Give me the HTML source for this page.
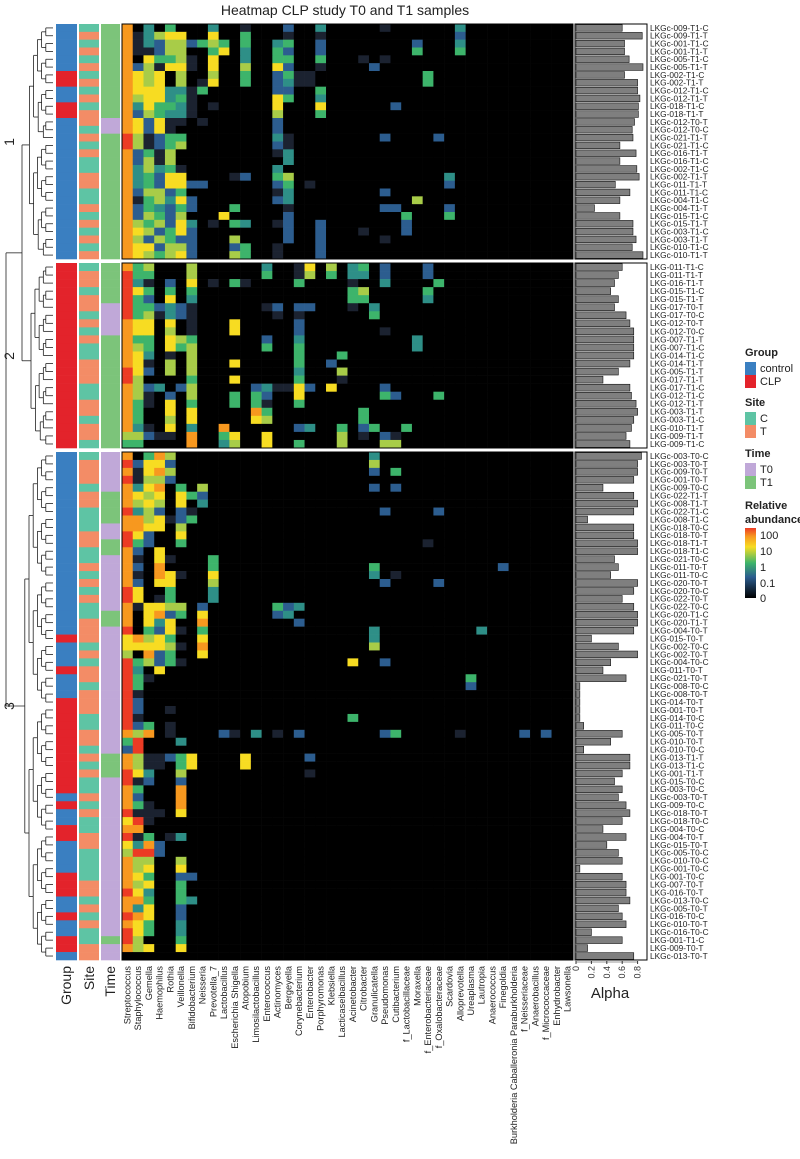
<!DOCTYPE html>
<html><head><meta charset="utf-8"><style>
html,body{margin:0;padding:0;background:#fff}
svg{display:block;font-family:"Liberation Sans",sans-serif}
</style></head><body>
<svg id="chart" width="800" height="1159" viewBox="0 0 800 1159" xmlns="http://www.w3.org/2000/svg">
<text x="345" y="15" font-size="14" text-anchor="middle" fill="#222">Heatmap CLP study T0 and T1 samples</text>
<g id="dendro"></g>
<g id="ann"></g>
<g id="heat"></g>
<g id="bars"></g>
<g id="rowlab"></g>
<g id="collab"></g>
<g id="legend"></g>
</svg>
<script>
const taxa = ["Streptococcus","Staphylococcus","Gemella","Haemophilus","Rothia","Veillonella","Bifidobacterium","Neisseria","Prevotella_7","Lactobacillus","Escherichia Shigella","Atopobium","Limosilactobacillus","Enterococcus","Actinomyces","Bergeyella","Corynebacterium","Enterobacter","Porphyromonas","Klebsiella","Lacticaseibacillus","Acinetobacter","Citrobacter","Granulicatella","Pseudomonas","Cutibacterium","f_Lactobacillaceae","Moraxella","f_Enterobacteriaceae","f_Oxalobacteraceae","Scardovia","Alloprevotella","Ureaplasma","Lautropia","Anaerococcus","Finegoldia","Burkholderia Caballeronia Paraburkholderia","f_Neisseriaceae","Anaerobacillus","f_Micrococcaceae","Enhydrobacter","Lawsonella"];
const levelValues = [0,0.02,0.1,0.5,1,5,10,50,100];
const clusterSizes = [30,23,64];
const samples = [
"LKGc-009-T1-C","LKGc-009-T1-T","LKGc-001-T1-C","LKGc-001-T1-T","LKGc-005-T1-C","LKGc-005-T1-T","LKG-002-T1-C","LKG-002-T1-T","LKGc-012-T1-C","LKGc-012-T1-T","LKG-018-T1-C","LKG-018-T1-T","LKGc-012-T0-T","LKGc-012-T0-C","LKGc-021-T1-T","LKGc-021-T1-C","LKGc-016-T1-T","LKGc-016-T1-C","LKGc-002-T1-C","LKGc-002-T1-T","LKGc-011-T1-T","LKGc-011-T1-C","LKGc-004-T1-C","LKGc-004-T1-T","LKGc-015-T1-C","LKGc-015-T1-T","LKGc-003-T1-C","LKGc-003-T1-T","LKGc-010-T1-C","LKGc-010-T1-T",
"LKG-011-T1-C","LKG-011-T1-T","LKG-016-T1-T","LKG-015-T1-C","LKG-015-T1-T","LKG-017-T0-T","LKG-017-T0-C","LKG-012-T0-T","LKG-012-T0-C","LKG-007-T1-T","LKG-007-T1-C","LKG-014-T1-C","LKG-014-T1-T","LKG-005-T1-T","LKG-017-T1-T","LKG-017-T1-C","LKG-012-T1-C","LKG-012-T1-T","LKG-003-T1-T","LKG-003-T1-C","LKG-010-T1-T","LKG-009-T1-T","LKG-009-T1-C",
"LKGc-003-T0-C","LKGc-003-T0-T","LKGc-009-T0-T","LKGc-001-T0-T","LKGc-009-T0-C","LKGc-022-T1-T","LKGc-008-T1-T","LKGc-022-T1-C","LKGc-008-T1-C","LKGc-018-T0-C","LKGc-018-T0-T","LKGc-018-T1-T","LKGc-018-T1-C","LKGc-021-T0-C","LKGc-011-T0-T","LKGc-011-T0-C","LKGc-020-T0-T","LKGc-020-T0-C","LKGc-022-T0-T","LKGc-022-T0-C","LKGc-020-T1-C","LKGc-020-T1-T","LKGc-004-T0-T","LKG-015-T0-T","LKGc-002-T0-C","LKGc-002-T0-T","LKGc-004-T0-C","LKG-011-T0-T","LKGc-021-T0-T","LKGc-008-T0-C","LKGc-008-T0-T","LKG-014-T0-T","LKG-001-T0-T","LKG-014-T0-C","LKG-011-T0-C","LKG-005-T0-T","LKG-010-T0-T","LKG-010-T0-C","LKG-013-T1-T","LKG-013-T1-C","LKG-001-T1-T","LKG-015-T0-C","LKG-003-T0-C","LKGc-003-T0-T","LKG-009-T0-C","LKGc-018-T0-T","LKGc-018-T0-C","LKG-004-T0-C","LKG-004-T0-T","LKGc-015-T0-T","LKGc-005-T0-C","LKGc-010-T0-C","LKGc-001-T0-C","LKG-001-T0-C","LKG-007-T0-T","LKG-016-T0-T","LKGc-013-T0-C","LKGc-005-T0-T","LKG-016-T0-C","LKGc-010-T0-T","LKGc-016-T0-C","LKG-001-T1-C","LKG-009-T0-T","LKGc-013-T0-T"];
const alpha = [0.60,0.86,0.63,0.63,0.69,0.87,0.63,0.80,0.80,0.83,0.81,0.81,0.76,0.73,0.74,0.57,0.78,0.57,0.79,0.82,0.51,0.70,0.57,0.24,0.57,0.74,0.74,0.78,0.73,0.87,
0.60,0.55,0.50,0.45,0.55,0.50,0.65,0.70,0.75,0.75,0.75,0.75,0.70,0.55,0.35,0.70,0.72,0.78,0.80,0.75,0.72,0.65,0.70,
0.85,0.80,0.80,0.75,0.35,0.75,0.80,0.75,0.15,0.75,0.75,0.80,0.80,0.50,0.55,0.45,0.80,0.75,0.60,0.75,0.80,0.80,0.75,0.20,0.55,0.80,0.45,0.35,0.65,0.05,0.05,0.05,0.05,0.05,0.10,0.60,0.45,0.10,0.70,0.70,0.60,0.50,0.60,0.55,0.65,0.70,0.60,0.35,0.65,0.40,0.55,0.60,0.05,0.60,0.65,0.65,0.70,0.55,0.60,0.65,0.20,0.60,0.15,0.75];
// heat levels: dense prefix | sparse "col:level"
const heat = [
"70304000300100020030|24:1 31:3","71356600600400010010|31:2","71325524540400340020|27:2 31:3","71125500460300420020|27:4 31:4","70644510600300440040|22:1 24:1","72516610600500620010|23:2","76560500500400241100|28:4","76560501600400231100|28:4","76663314000000220040|","75663410000000640030|","73644310100000600060|25:2","72543310000000500040|","76261101000000200000|","76261000000000200000|","85124400000000310000|24:2 29:2","85124500000000210000|","72415000000000130000|","72515000000000030000|","73534100000000300000|","73426600001200450000|30:3","73426622000000240100|30:2","72552400000000130000|24:2","71453620000000230000|27:5","72432420004000010000|24:2 25:2 30:2","72542500060000020000|26:4 30:4","75452630104300120020|26:2","76524620000000020020|26:2 22:1","75254220005000020020|24:1","76625520002400100020|","76545620005400100020|",
"7450005|13:3 16:1 17:6 19:5 21:3 22:4 24:2 28:2","8440005|13:4 16:1 17:5 19:4 21:3 22:3 24:2 28:2","8310206|8:1 10:4 11:1 16:4 21:1 24:3 29:4","8640404|21:4 22:5 28:4","8420603|21:4 22:4 28:3","8442321|13:1 14:2 16:2 17:2 21:1 23:3","8451321|14:1 16:1 23:4","7660601|10:6 16:2","7660501|10:6 16:2 24:1","7440654|13:2 16:3 27:3","7540645|13:4 16:4 27:3","7630105|16:4 20:4","7610505|10:6 16:4 19:2","8620505|16:3 20:5","8500004|10:6 16:4 20:1","7523025|12:2 13:3 14:1 15:1 16:6 17:2 19:6 24:2","7510205|10:4 12:4 13:2 16:6 24:4 25:2 29:4","7410604|10:4 12:4 13:1 16:4","7400606|12:7 13:4 22:4","7400506|12:6 13:5 22:4","7310603|9:7 16:2 17:3 20:4 22:2 23:4 26:4","5521107|9:4 10:6 13:6 20:5 22:1 24:2 25:1","4400007|9:3 10:5 13:6 16:4 20:5 24:5 25:5",
"70475|23:3","82662|23:5","71675|23:2 25:4","81552|","73670405|23:2 25:2","76560642|","75650603|","83520210|24:2 29:2","7756124|","776605|","862006|","842004|28:1","720600|","7106100040|","72070000400000000000|23:4 35:2","71076100600000000000|23:3 25:1","72066000500000000000|24:2 29:2","86004000300000000000|","86014000300000000000|","71665502000000420000|14:4 15:2 16:3","70672406000000230000|","706360070000000020000|","80426104|23:3 33:3","67564006|23:3","66665107|23:5","50724006|","84524100|21:6 24:2","83060000|","84100000|32:4","840000|32:2","81|","82|","82001|","81|21:4","82401|","75701000021030102000|24:2 25:4 31:1 37:2 39:2","48000300|","28000000|","75112460000600000200|","75110460000600000000|","86300500|17:1","81200200|","74000700|","72000700|","74100700|","81110600|","68100000|","77000000|","81401300|","63720000|","58820000|","75500500|","75600600|","76400220|","75600400|","86300400|","77400430|","73600200|","87600200|","76400300|","86400300|","85000400|","75600600|"];

const svgNS="http://www.w3.org/2000/svg";
function mk(tag,attrs,parent){const e=document.createElementNS(svgNS,tag);for(const k in attrs)e.setAttribute(k,attrs[k]);parent.appendChild(e);return e;}
const stops=['#000000','#1b2230','#2c5d8f','#2e8f87','#3db46b','#a8cc48','#f7dc22','#f7981f','#ec3b24'];
function colorScale(v){let i=0;for(let k=0;k<levelValues.length;k++){if(v>=levelValues[k])i=k;}return stops[i];}
function parseRow(s){const [d,sp]=s.split('|');const vals=new Array(taxa.length).fill(0);for(let i=0;i<d.length&&i<taxa.length;i++)vals[i]=levelValues[+d[i]];if(sp)sp.trim().split(/\s+/).forEach(t=>{const [c,l]=t.split(':');vals[+c]=levelValues[+l];});return vals;}

const clusterY=[[24,259],[263,448],[452,960]];
const hx0=122,hx1=573,colW=(hx1-hx0)/taxa.length;
const xScale=c=>hx0+c*colW;
const bx0=576,bScale=a=>bx0+a*77;
const rowsY=[];
clusterSizes.forEach((n,g)=>{const [a,b]=clusterY[g];const h=(b-a)/n;for(let i=0;i<n;i++){rowsY.push({y:a+i*h,h:h,g:g});}});

const heatG=document.getElementById('heat'),annG=document.getElementById('ann'),barG=document.getElementById('bars'),rl=document.getElementById('rowlab');
const cols={control:'#3a7fc1',CLP:'#e3232b',C:'#5ec4a4',T:'#f38c66',T0:'#c0a8d8',T1:'#7cc47a'};
samples.forEach((name,r)=>{
  const ry=rowsY[r];const vals=parseRow(heat[r]||"0|");
  vals.forEach((v,c)=>{const e=mk('rect',{x:xScale(c),y:ry.y,width:colW+0.3,height:ry.h+0.3,fill:colorScale(v)},heatG);
    
    });
  const grp=name.startsWith('LKGc')?'control':'CLP';const site=name.slice(-1);const time=name.indexOf('T0')>=0?'T0':'T1';
  [[56,21,grp],[79,20,site],[101,19,time]].forEach(([x,w,k])=>{const e=mk('rect',{x:x,y:ry.y,width:w,height:ry.h+0.3,fill:cols[k]},annG);
    
    });
  const b=mk('rect',{x:bx0,y:ry.y+0.6,width:Math.max(0,bScale(alpha[r])-bx0),height:ry.h-1.2,fill:'#7f7f7f',stroke:'#111','stroke-width':0.6},barG);
  
  
  const t=mk('text',{x:650,y:ry.y+ry.h/2+2.9,'font-size':8.3,fill:'#222'},rl);t.textContent=name;
  
  
});
clusterY.forEach(([a,b])=>{
  mk('rect',{x:hx0,y:a,width:hx1-hx0,height:b-a,fill:'none',stroke:'#000','stroke-width':1},heatG);
  mk('rect',{x:575,y:a,width:72,height:b-a,fill:'none',stroke:'#000','stroke-width':1},barG);
});
mk('line',{x1:bx0,y1:962,x2:bScale(0.8),y2:962,stroke:'#333','stroke-width':0.6},barG);
[0,0.2,0.4,0.6,0.8].forEach(v=>{const x=bScale(v);mk('line',{x1:x,y1:961,x2:x,y2:964,stroke:'#333'},barG);
  const t=mk('text',{x:0,y:0,'font-size':9,fill:'#333','text-anchor':'end',transform:`translate(${x+3},966) rotate(-90)`},barG);t.textContent=String(v);
  
  });
const at=mk('text',{x:610,y:998,'font-size':15,fill:'#222','text-anchor':'middle'},barG);at.textContent='Alpha';


const cl=document.getElementById('collab');
taxa.forEach((n,c)=>{const x=xScale(c)+colW/2+3;const t=mk('text',{x:0,y:0,'font-size':9.2,fill:'#222','text-anchor':'end',transform:`translate(${x},966) rotate(-90)`},cl);t.textContent=n;
  
  });
[['Group',71],['Site',94],['Time',115]].forEach(([n,x])=>{const t=mk('text',{x:0,y:0,'font-size':14,fill:'#222','text-anchor':'end',transform:`translate(${x},966) rotate(-90)`},cl);t.textContent=n;
  
  });
const dg=document.getElementById('dendro');
function line(x1,y1,x2,y2){mk('line',{x1,y1,x2,y2,stroke:'#222','stroke-width':0.8},dg);}
function build(lo,hi,xr){if(lo===hi){const r=rowsY[lo];return {y:r.y+r.h/2,x:xr};}
  const mid=Math.floor((lo+hi)/2);const a=build(lo,mid,xr),b=build(mid+1,hi,xr);
  const n=hi-lo+1;const x=xr-3-Math.log2(n)*4.2;
  line(x,a.y,x,b.y);line(x,a.y,a.x,a.y);line(x,b.y,b.x,b.y);return {y:(a.y+b.y)/2,x:x};}
let s=0;const roots=clusterSizes.map(n=>{const r=build(s,s+n-1,53);s+=n;return r;});
const j1x=22;line(j1x,roots[0].y,j1x,roots[1].y);line(j1x,roots[0].y,roots[0].x,roots[0].y);line(j1x,roots[1].y,roots[1].x,roots[1].y);
const j2x=6,j1y=(roots[0].y+roots[1].y)/2;line(j2x,j1y,j2x,roots[2].y);line(j2x,j1y,j1x,j1y);line(j2x,roots[2].y,roots[2].x,roots[2].y);
[['1',142],['2',356],['3',706]].forEach(([n,y])=>{const t=mk('text',{x:0,y:0,'font-size':14,fill:'#222','text-anchor':'middle',transform:`translate(14,${y}) rotate(-90)`},dg);t.textContent=n;
  
  });
const lg=document.getElementById('legend');
function ltext(x,y,txt,bold,name){const t=mk('text',{x,y,'font-size':11,'font-weight':bold?'bold':'normal',fill:'#222'},lg);t.textContent=txt;
  
  }
ltext(745,356,'Group',true,'legend-title');
[['control',cols.control,362],['CLP',cols.CLP,375]].forEach(([n,c,y])=>{mk('rect',{x:745,y,width:11,height:13,fill:c},lg);ltext(760,y+10,n,false,'legend-entry');});
ltext(745,406,'Site',true,'legend-title');
[['C',cols.C,412],['T',cols.T,425]].forEach(([n,c,y])=>{mk('rect',{x:745,y,width:11,height:13,fill:c},lg);ltext(760,y+10,n,false,'legend-entry');});
ltext(745,457,'Time',true,'legend-title');
[['T0',cols.T0,463],['T1',cols.T1,476]].forEach(([n,c,y])=>{mk('rect',{x:745,y,width:11,height:13,fill:c},lg);ltext(760,y+10,n,false,'legend-entry');});
ltext(745,509,'Relative',true,'legend-title');ltext(745,523,'abundance',true,'legend-title');
const defs=mk('defs',{},lg);const gr=mk('linearGradient',{id:'cb',x1:0,y1:0,x2:0,y2:1},defs);
[['0','#ec3b24'],['0.12','#f7981f'],['0.27','#f7dc22'],['0.5','#3db46b'],['0.7','#2c5d8f'],['1','#000']].forEach(([o,c])=>mk('stop',{offset:o,'stop-color':c},gr));
mk('rect',{x:745,y:528,width:11,height:70,fill:'url(#cb)'},lg);
[['100',535],['10',551],['1',567],['0.1',583],['0',598]].forEach(([n,y])=>ltext(760,y+4,n,false,'colorbar-label'));
</script>
</body></html>
